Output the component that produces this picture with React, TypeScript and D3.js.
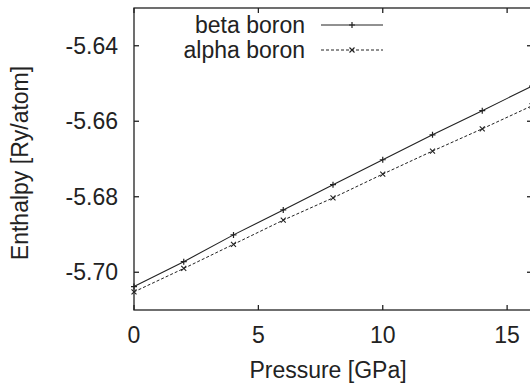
import React, { useEffect, useRef } from 'react';
import * as d3 from 'd3';

// pressure points (GPa)
const pressures = [0, 2, 4, 6, 8, 10, 12, 14, 16];
// enthalpy (Ry/atom)
const betaBoron = [-5.7038, -5.6972, -5.6901, -5.6835, -5.6768, -5.6702, -5.6636, -5.6572, -5.6507];
const alphaBoron = [-5.7052, -5.6990, -5.6926, -5.6862, -5.6803, -5.6740, -5.6679, -5.6620, -5.6559];

const xTicks = [0, 5, 10, 15];
const yTicks = [-5.64, -5.66, -5.68, -5.70];

const W = 530;
const H = 383;
const FONT = 'Liberation Sans, Arial, Helvetica, sans-serif';
const INK = '#222';

const App = () => {
  const svgRef = useRef<SVGSVGElement>(null);

  useEffect(() => {
    const svg = d3.select(svgRef.current);
    svg.selectAll('*').remove();

    const margin = { left: 134, right: 532, top: 8, bottom: 310 };
    const x = d3.scaleLinear().domain([0, 16]).range([margin.left, margin.right]);
    const y = d3.scaleLinear().domain([-5.71, -5.63]).range([margin.bottom, margin.top]);

    const tickLen = 5;

    // frame
    svg.append('rect')
      .attr('x', margin.left).attr('y', margin.top)
      .attr('width', margin.right - margin.left)
      .attr('height', margin.bottom - margin.top)
      .attr('fill', 'none').attr('stroke', INK).attr('stroke-width', 1.3);

    // x ticks (bottom and top, inward)
    xTicks.forEach(t => {
      svg.append('line').attr('x1', x(t)).attr('x2', x(t))
        .attr('y1', margin.bottom).attr('y2', margin.bottom - tickLen)
        .attr('stroke', INK).attr('stroke-width', 1.3);
      svg.append('line').attr('x1', x(t)).attr('x2', x(t))
        .attr('y1', margin.top).attr('y2', margin.top + tickLen)
        .attr('stroke', INK).attr('stroke-width', 1.3);
      svg.append('text')
        .attr('x', x(t)).attr('y', 335)
        .attr('text-anchor', 'middle').attr('dominant-baseline', 'central')
        .style('font-family', FONT).style('font-size', '23px').style('fill', INK)
        .text(t);
    });

    // y ticks (left and right, inward)
    yTicks.forEach(t => {
      svg.append('line').attr('x1', margin.left).attr('x2', margin.left + tickLen)
        .attr('y1', y(t)).attr('y2', y(t))
        .attr('stroke', INK).attr('stroke-width', 1.3);
      svg.append('line').attr('x1', margin.right).attr('x2', margin.right - tickLen)
        .attr('y1', y(t)).attr('y2', y(t))
        .attr('stroke', INK).attr('stroke-width', 1.3);
      svg.append('text')
        .attr('x', 118).attr('y', y(t))
        .attr('text-anchor', 'end').attr('dominant-baseline', 'central')
        .style('font-family', FONT).style('font-size', '23px').style('fill', INK)
        .text(t.toFixed(2));
    });

    // axis titles
    svg.append('text')
      .attr('x', 328).attr('y', 370)
      .attr('text-anchor', 'middle').attr('dominant-baseline', 'central')
      .style('font-family', FONT).style('font-size', '23px').style('fill', INK)
      .text('Pressure [GPa]');
    svg.append('text')
      .attr('transform', 'translate(20,163) rotate(-90)')
      .attr('text-anchor', 'middle').attr('dominant-baseline', 'central')
      .style('font-family', FONT).style('font-size', '23px').style('fill', INK)
      .text('Enthalpy [Ry/atom]');

    const plot = svg.append('g');
    const line = d3.line<number>().x((d, i) => x(pressures[i])).y(d => y(d));

    const plus = (g: any, cx: number, cy: number, s: number) => {
      g.append('path').attr('d', `M${cx - s},${cy}H${cx + s}M${cx},${cy - s}V${cy + s}`)
        .attr('stroke', INK).attr('stroke-width', 1.2).attr('fill', 'none');
    };
    const cross = (g: any, cx: number, cy: number, s: number) => {
      g.append('path').attr('d', `M${cx - s},${cy - s}L${cx + s},${cy + s}M${cx - s},${cy + s}L${cx + s},${cy - s}`)
        .attr('stroke', INK).attr('stroke-width', 1.1).attr('fill', 'none');
    };

    plot.append('path').datum(betaBoron)
      .attr('d', line).attr('fill', 'none').attr('stroke', INK).attr('stroke-width', 1.1);
    betaBoron.forEach((v, i) => plus(plot, x(pressures[i]), y(v), 3));

    plot.append('path').datum(alphaBoron)
      .attr('d', line).attr('fill', 'none').attr('stroke', INK).attr('stroke-width', 1)
      .attr('stroke-dasharray', '3,2');
    alphaBoron.forEach((v, i) => cross(plot, x(pressures[i]), y(v), 2.5));

    // legend
    const legend = [
      { name: 'beta boron', dash: null, mark: plus, yy: 25 },
      { name: 'alpha boron', dash: '3,2', mark: cross, yy: 50 },
    ];
    legend.forEach(l => {
      svg.append('text')
        .attr('x', 305).attr('y', l.yy)
        .attr('text-anchor', 'end').attr('dominant-baseline', 'central')
        .style('font-family', FONT).style('font-size', '23px').style('fill', INK)
        .text(l.name);
      svg.append('line').attr('x1', 321).attr('x2', 383)
        .attr('y1', l.yy).attr('y2', l.yy)
        .attr('stroke', INK).attr('stroke-width', 1)
        .attr('stroke-dasharray', l.dash);
      l.mark(svg, 352, l.yy, l.mark === plus ? 3 : 2.5);
    });
  }, []);

  return (
    <svg
      ref={svgRef}
      width={W}
      height={H}
      style={{ position: 'fixed', left: 0, top: 0, background: '#fff', overflow: 'hidden' }}
    />
  );
};

export default App;
